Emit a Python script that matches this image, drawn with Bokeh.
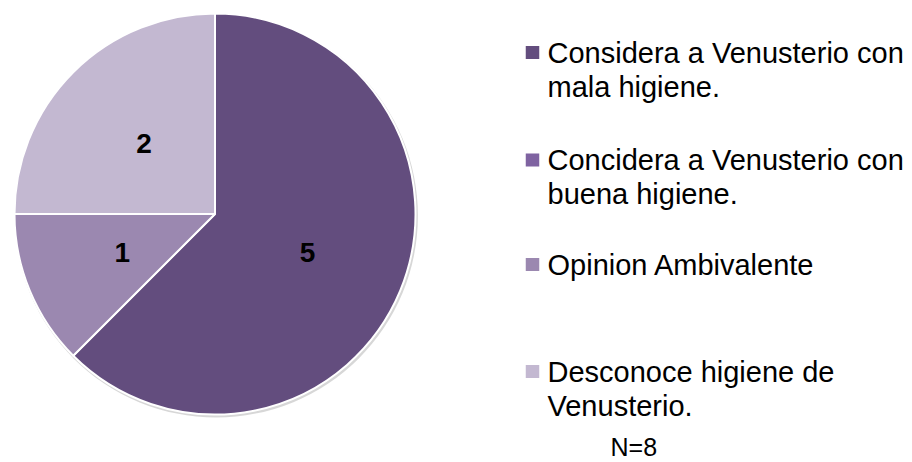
import math
from bokeh.plotting import figure
from bokeh.models import Range1d, ColumnDataSource
from bokeh.embed import file_html
from bokeh.resources import INLINE
from bokeh.core.properties import value

# ---- data ----
categories = [
    "Considera a Venusterio con\nmala higiene.",
    "Concidera a Venusterio con\nbuena higiene.",
    "Opinion Ambivalente",
    "Desconoce higiene de\nVenusterio.",
]
counts = [5, 0, 1, 2]
colors = ["#634D7E", "#7F63A1", "#9B88B0", "#C3B8D1"]
note = "N=8"

# ---- layout (pixel coordinates, y measured from the top) ----
W, H = 912, 462
CX, CY_TOP, R = 214.5, 213.5, 200.5
legend_centers_top = [52, 159.5, 264, 371]
legend_text_x = 547
legend_marker_x = 532
line_gap = 34
note_x, note_center_top = 610, 446
FONT = "Liberation Sans"


def yu(y_top):
    return H - y_top


CY = yu(CY_TOP)

p = figure(width=W, height=H, output_backend="svg", toolbar_location=None,
           x_range=Range1d(0, W), y_range=Range1d(0, H), min_border=0,
           x_axis_location=None, y_axis_location=None)
p.grid.visible = False
p.outline_line_color = None
p.background_fill_color = "white"
p.border_fill_color = "white"

# soft shadow
p.circle(x=[CX + 1.2], y=[CY - 1.8], radius=R + 1.2, fill_color="#BDBDBD",
         fill_alpha=0.6, line_color=None)

total = sum(counts)
ws, we, wc, lx, ly, lt = [], [], [], [], [], []
cum = 0
for c, col in zip(counts, colors):
    a0 = math.pi / 2 - 2 * math.pi * cum / total
    a1 = math.pi / 2 - 2 * math.pi * (cum + c) / total
    if c > 0:
        ws.append(a1)
        we.append(a0)
        wc.append(col)
        mid = (a0 + a1) / 2
        lx.append(CX + 0.5 * R * math.cos(mid))
        ly.append(CY + 0.5 * R * math.sin(mid))
        lt.append(str(c))
    cum += c

src = ColumnDataSource(dict(start=ws, end=we, color=wc))
p.wedge(x=CX, y=CY, radius=R, start_angle="start", end_angle="end",
        fill_color="color", line_color="white", line_width=2, source=src)

p.text(x=lx, y=ly, text=lt, text_font=value(FONT), text_font_style="bold",
       text_font_size="28px", text_align="center", text_baseline="middle",
       text_color="black")

# legend
mx, my, tx, ty, tt = [], [], [], [], []
for cat, ctop in zip(categories, legend_centers_top):
    mx.append(legend_marker_x)
    my.append(yu(ctop))
    for i, line in enumerate(cat.split("\n")):
        tx.append(legend_text_x)
        ty.append(yu(ctop + i * line_gap))
        tt.append(line)

p.rect(x=mx, y=my, width=13.5, height=13, fill_color=colors, line_color=None)
p.text(x=tx, y=ty, text=tt, text_font=value(FONT), text_font_size="29px",
       text_align="left", text_baseline="middle", text_color="black")

p.text(x=[note_x], y=[yu(note_center_top)], text=[note], text_font=value(FONT),
       text_font_size="25px", text_align="left", text_baseline="middle",
       text_color="black")

open("out.html", "w").write(file_html(p, INLINE))
